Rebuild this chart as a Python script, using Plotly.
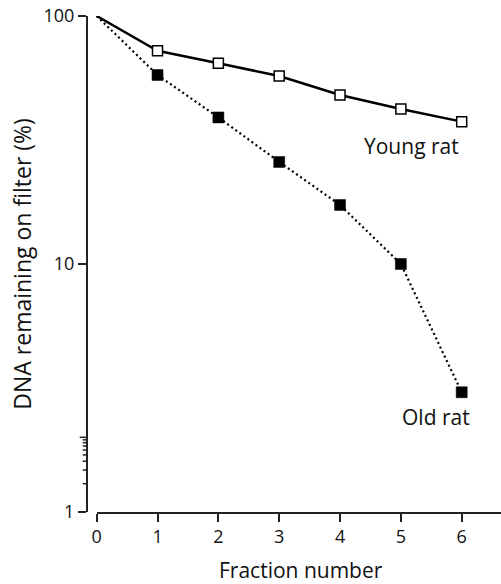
import math
import plotly.graph_objects as go

# Fraction number and % DNA remaining on the filter
fractions = [0, 1, 2, 3, 4, 5, 6]
young_rat = [100, 72.4, 64.5, 57.3, 48.0, 42.2, 37.5]
old_rat = [100, 57.8, 39.0, 25.8, 17.3, 10.0, 3.04]

y_tick_vals = [1, 10, 100]
y_minor_vals = [2, 3, 4, 5, 6, 7, 8, 9, 20, 30, 40, 50, 60, 70, 80, 90]
x_tick_vals = [0, 1, 2, 3, 4, 5, 6]

FONT = "Open Sans"
AXIS_COLOR = "#222222"
TEXT_COLOR = "#111111"

W, H = 501, 584
M_TOP, M_BOT = 16, 72
PLOT_H = H - M_TOP - M_BOT

# y axis line sits a little left of the x origin (detached axes)
Y_LINE_PX = 87.7
X0_PX = 96.7
X_MAX = 6.646
PX_PER_UNIT = (W - X0_PX) / X_MAX
X_LEFT = -(X0_PX - Y_LINE_PX) / PX_PER_UNIT
MAJOR_LEN, MINOR_LEN = 8, 5


def paper_y(py):
    # pixel row -> paper fraction of the plotting area
    return (H - M_BOT - py) / PLOT_H


fig = go.Figure()

# Connecting lines start at fraction 0 (100%), markers from fraction 1 on
fig.add_trace(go.Scatter(
    x=fractions, y=old_rat, mode="lines",
    line=dict(color="black", width=2.2, dash="2px,3px"),
    showlegend=False, hoverinfo="skip",
))
fig.add_trace(go.Scatter(
    x=fractions, y=young_rat, mode="lines",
    line=dict(color="black", width=2.5),
    showlegend=False, hoverinfo="skip",
))
fig.add_trace(go.Scatter(
    x=fractions[1:], y=old_rat[1:], mode="markers",
    marker=dict(symbol="square", size=11, color="black",
                line=dict(color="black", width=0.5)),
    showlegend=False,
))
# open squares use the visible x axis (same pixel scale as the hidden one)
fig.add_trace(go.Scatter(
    x=fractions[1:], y=young_rat[1:], mode="markers", xaxis="x2",
    marker=dict(symbol="square", size=10, color="white",
                line=dict(color="black", width=1.5)),
    showlegend=False,
))

# Tick marks on the log y axis: long at decades, short in between
for vals, length in ((y_tick_vals, MAJOR_LEN), (y_minor_vals, MINOR_LEN)):
    for v in vals:
        fig.add_shape(
            type="line", xref="paper", yref="y",
            x0=(Y_LINE_PX - length) / W, x1=Y_LINE_PX / W,
            y0=math.log10(v), y1=math.log10(v),
            line=dict(color=AXIS_COLOR, width=1.5), layer="above",
        )

fig.add_annotation(x=5.17, y=math.log10(30), xref="x", yref="y",
                   text="Young rat", showarrow=False,
                   font=dict(family=FONT, size=21, color=TEXT_COLOR))
fig.add_annotation(x=5.58, y=math.log10(2.42), xref="x", yref="y",
                   text="Old rat", showarrow=False,
                   font=dict(family=FONT, size=21, color=TEXT_COLOR))

# Axis titles placed as paper-anchored text
fig.add_annotation(x=21.7 / W, y=paper_y(264), xref="paper", yref="paper",
                   text="DNA remaining on filter (%)", textangle=-90,
                   showarrow=False, xanchor="center", yanchor="middle",
                   font=dict(family=FONT, size=23, color=TEXT_COLOR))
fig.add_annotation(x=301 / W, y=paper_y(569.5), xref="paper", yref="paper",
                   text="Fraction number", showarrow=False,
                   xanchor="center", yanchor="middle",
                   font=dict(family=FONT, size=21, color=TEXT_COLOR))

fig.update_layout(
    template="none",
    width=W, height=H,
    margin=dict(l=0, r=0, t=M_TOP, b=M_BOT, autoexpand=False),
    paper_bgcolor="white", plot_bgcolor="rgba(0,0,0,0)",
    font=dict(family=FONT, size=18, color=TEXT_COLOR),
    # hidden axis spanning from the y axis line
    xaxis=dict(
        domain=[Y_LINE_PX / W, 1], range=[X_LEFT, X_MAX],
        showline=False, showticklabels=False, ticks="",
        automargin=False, showgrid=False, zeroline=False,
    ),
    # visible x axis starting at fraction 0
    xaxis2=dict(
        domain=[X0_PX / W, 1], range=[0, X_MAX],
        anchor="y", automargin=False,
        showline=True, linecolor=AXIS_COLOR, linewidth=1.5,
        showgrid=False, zeroline=False,
        ticks="outside", ticklen=8, tickwidth=1.5, tickcolor=AXIS_COLOR,
        tickvals=x_tick_vals,
        tickfont=dict(family=FONT, size=18, color=TEXT_COLOR),
    ),
    # decade labels on the log y axis
    yaxis=dict(
        type="log", range=[0, 2],
        anchor="x", automargin=False,
        showline=True, linecolor=AXIS_COLOR, linewidth=1.5,
        showgrid=False, zeroline=False,
        ticks="outside", ticklen=8, tickwidth=1.5, tickcolor=AXIS_COLOR,
        tickvals=y_tick_vals, ticksuffix="\u00a0\u00a0",
        tickfont=dict(family=FONT, size=18, color=TEXT_COLOR),
    ),
)

fig.write_html("out.html")
